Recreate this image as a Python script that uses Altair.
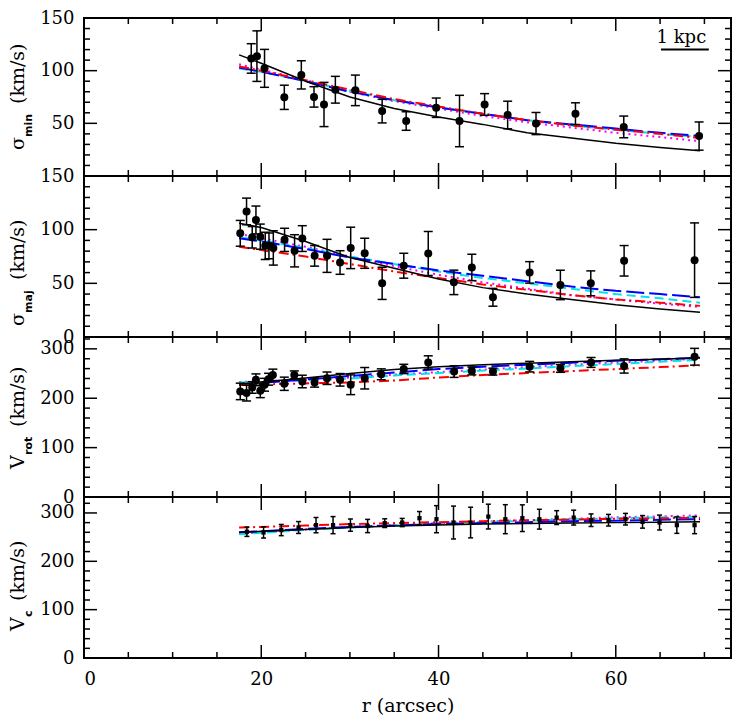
import altair as alt
import pandas as pd

# ---------------- data ----------------
# panel 1: sigma_min
r_min = [18.87, 19.51, 20.37, 22.60, 24.52, 25.95, 27.08, 28.36, 30.62, 33.64, 36.35, 39.74,
         42.37, 45.20, 47.80, 51.00, 55.45, 60.90, 69.40]
v_min = [111.6, 113.8, 102.2, 74.7, 96.0, 75.1, 67.9, 81.9, 81.3, 61.6, 52.2, 64.8,
         52.2, 67.9, 57.9, 49.8, 59.2, 46.6, 37.9]
e_min = [14, 24, 18, 11.5, 13.4, 9.7, 21, 12.7, 14.5, 11.2, 8.8, 9.2,
         24.4, 10.3, 13.1, 10.5, 10.3, 10.3, 13.4]

# panel 2: sigma_maj
r_maj = [17.63, 18.34, 18.98, 19.40, 19.89, 20.45, 20.87, 21.36, 22.63, 23.76, 24.63, 26.02,
         27.42, 28.89, 30.09, 31.67, 33.64, 36.08, 38.84, 41.73, 43.76, 46.14, 50.28, 53.75,
         57.18, 60.94, 68.89]
v_maj = [96.6, 117.0, 92.9, 109.0, 93.5, 84.9, 84.9, 83.0, 90.5, 80.3, 91.7, 75.6,
         75.6, 69.4, 83.0, 78.0, 50.0, 66.4, 77.8, 50.9, 64.8, 37.0, 60.2, 48.5,
         50.0, 71.0, 71.6]
e_maj = [12, 12.4, 10, 13, 11.7, 12.7, 12, 16, 10.8, 15, 12, 9.6,
         15.4, 11, 19.3, 14, 15, 11.6, 20.5, 11.4, 12.3, 8.3, 10, 13.7,
         11.6, 14.2, 34.7]

# panel 3: V_rot
r_rot = [17.63, 18.34, 18.98, 19.40, 19.89, 20.37, 20.82, 21.31, 22.60, 23.73, 24.63, 26.02,
         27.42, 28.89, 30.09, 31.67, 33.54, 36.08, 38.84, 41.76, 43.76, 46.14, 50.28, 53.75,
         57.21, 60.94, 68.89]
v_rot = [213.8, 210.4, 221.8, 237.3, 215.2, 227.3, 238.5, 247.3, 229.3, 247.3, 233.9, 231.9,
         240.5, 237.3, 227.3, 240.5, 248.5, 259.3, 272.5, 253.9, 255.3, 253.9, 263.9, 260.5,
         272.5, 265.3, 284.0]
e_rot = [16.7, 16, 11.7, 12, 14, 13, 12, 11.6, 13.4, 8, 12.7, 9.4,
         12.6, 12.7, 20, 21.7, 11, 9.4, 13.4, 11.7, 8, 7, 10.7, 8,
         10, 14.4, 17]

# panel 4: V_c
r_c = [18.38, 20.26, 22.26, 24.21, 26.18, 28.10, 30.06, 32.00, 33.93, 35.90, 37.85, 39.77,
       41.69, 43.62, 45.62, 47.54, 49.46, 51.38, 53.33, 55.25, 57.21, 59.18, 61.10, 63.02,
       64.94, 66.89, 68.89]
v_c = [261.1, 259.7, 264.6, 269.9, 274.8, 274.8, 274.8, 273.0, 278.9, 280.2, 289.2, 287.1,
       280.2, 280.2, 292.5, 287.1, 289.2, 287.1, 290.4, 290.4, 285.0, 285.0, 287.1, 281.6,
       280.2, 274.8, 274.8]
e_c = [9.6, 11.6, 11.6, 12.3, 15.8, 17.7, 12.7, 13.7, 9, 8.5, 13.7, 28,
       34, 31.7, 25.6, 30, 27.6, 20.5, 14.3, 15.4, 13, 12, 12, 13,
       15.4, 17, 17.7]

# model curves (radius grid shared by all models)
r_model = [17.5, 20, 25, 30, 35, 40, 45, 50, 55, 60, 65, 69.5]

min_black = [115, 107, 90, 75, 64, 56, 49, 41, 36, 31, 27, 24]
min_blue = [103, 99, 90, 80, 72, 65, 59, 53, 49, 45, 41, 38]
min_cyan = [102, 99, 90, 81, 72, 65, 59, 53, 48, 44, 40, 37]
min_red = [104, 100, 91, 82, 73, 66, 59, 53, 48, 44, 40, 36]
min_magenta = [106, 101, 91, 80, 71, 64, 57, 51, 46, 41, 37, 33]

maj_black = [106, 102, 89, 74, 64, 54, 46, 40, 35, 30, 26, 23]
maj_blue = [92, 89, 82, 74, 68, 62, 57, 52, 47, 43, 40, 37]
maj_cyan = [93, 90, 83, 75, 68, 61, 55, 50, 45, 40, 36, 32]
maj_red = [84, 81, 75, 68, 61, 55, 49, 44, 39, 35, 32, 29]
maj_magenta = [96, 92, 84, 75, 66, 58, 51, 45, 39, 35, 31, 28]

rot_black = [229, 233, 241, 250, 258, 264, 268, 271, 274, 277, 279, 282]
rot_blue = [227, 231, 238, 245, 252, 259, 264, 268, 272, 276, 279, 282]
rot_cyan = [232, 233, 236, 240, 246, 251, 256, 260, 265, 269, 274, 278]
rot_red = [227, 228, 230, 232, 236, 242, 247, 251, 255, 259, 263, 267]
rot_magenta = [233, 234, 237, 242, 248, 253, 258, 263, 268, 272, 276, 280]

c_black = [260, 262, 266, 270, 273, 275, 277, 278, 279, 280, 281, 282]
c_blue = [260, 262, 267, 271, 274, 277, 279, 281, 283, 284, 286, 287]
c_cyan = [256, 259, 265, 270, 274, 278, 281, 284, 287, 289, 291, 292]
c_red = [270, 271, 274, 277, 279, 281, 283, 285, 286, 288, 289, 290]
c_magenta = [257, 260, 266, 271, 275, 279, 282, 285, 288, 291, 293, 295]

# axis ticks
x_major = [20, 40, 60]
x_minor = [5, 10, 15, 25, 30, 35, 45, 50, 55, 65, 70]
x_labels = [0, 20, 40, 60]
sig_major = [50, 100]
sig_minor = [10, 20, 30, 40, 60, 70, 80, 90, 110, 120, 130, 140]
vel_major = [100, 200, 300]
vel_minor = [20, 40, 60, 80, 120, 140, 160, 180, 220, 240, 260, 280, 320]

# scale bar
kpc_x = [65.1]
kpc_x2 = [70.5]
kpc_y = [120]
kpc_text_x = [67.4]
kpc_text_y = [126]

# ---------------- styling ----------------
FONT = "DejaVu Serif"
W = 647
HEIGHTS = [158, 161, 160, 161]
STYLES = {
    "magenta": dict(color="#ff00ff", strokeDash=[2, 4], strokeWidth=2),
    "cyan": dict(color="#00e5e5", strokeDash=[9, 5], strokeWidth=2),
    "blue": dict(color="#0000ff", strokeDash=[18, 5], strokeWidth=2),
    "red": dict(color="#ff0000", strokeDash=[10, 4, 2, 4], strokeWidth=2),
    "black": dict(color="black", strokeWidth=1.5),
}
TITLE_X = -60
SUB_X = -52


def panel(H, r, v, e, models, ydom, ylabels, ymaj, ymin, titles, bottom=False,
          small=False, extra=None):
    xaxis = None
    if bottom:
        xaxis = alt.Axis(values=x_labels, ticks=False, domain=False, grid=False,
                         labelPadding=12, labelFont=FONT, labelFontSize=18,
                         labelColor="black", title="r (arcsec)", titleFont=FONT,
                         titleFontSize=19, titleFontWeight="normal", titleColor="black",
                         titlePadding=8)
    yaxis = alt.Axis(values=ylabels, ticks=False, domain=False, grid=False, title=None,
                     labelPadding=10, labelFont=FONT, labelFontSize=18,
                     labelColor="black")
    xs = alt.Scale(domain=[0, 73], nice=False, zero=False)
    ys = alt.Scale(domain=ydom, nice=False, zero=False)

    def X(f):
        return alt.X(f, type="quantitative", scale=xs, axis=xaxis)

    def Y(f):
        return alt.Y(f, type="quantitative", scale=ys, axis=yaxis)

    layers = []
    # inward ticks
    for vals, ln in ((x_major, 13), (x_minor, 6)):
        d = pd.DataFrame({"r": vals})
        layers.append(alt.Chart(d).mark_rule(color="black", strokeWidth=1.5).encode(
            x=X("r"), y=alt.value(0), y2=alt.value(ln)))
        layers.append(alt.Chart(d).mark_rule(color="black", strokeWidth=1.5).encode(
            x=X("r"), y=alt.value(H), y2=alt.value(H - ln)))
    for vals, ln in ((ymaj, 13), (ymin, 6)):
        d = pd.DataFrame({"v": vals})
        layers.append(alt.Chart(d).mark_rule(color="black", strokeWidth=1.5).encode(
            y=Y("v"), x=alt.value(0), x2=alt.value(ln)))
        layers.append(alt.Chart(d).mark_rule(color="black", strokeWidth=1.5).encode(
            y=Y("v"), x=alt.value(W), x2=alt.value(W - ln)))

    # model curves
    for name in ["magenta", "cyan", "blue", "red", "black"]:
        d = pd.DataFrame({"r": r_model, "v": models[name]})
        layers.append(alt.Chart(d).mark_line(**STYLES[name]).encode(x=X("r"), y=Y("v")))

    # data with error bars
    d = pd.DataFrame({"r": r, "v": v, "e": e})
    d["lo"] = d["v"] - d["e"]
    d["hi"] = d["v"] + d["e"]
    cap = 5 if small else 9
    layers.append(alt.Chart(d).mark_rule(color="black", strokeWidth=1.5).encode(
        x=X("r"), y=Y("lo"), y2="hi"))
    for f in ("lo", "hi"):
        layers.append(alt.Chart(d).mark_tick(color="black", orient="horizontal", size=cap,
                                             thickness=1.5, opacity=1).encode(x=X("r"), y=Y(f)))
    if small:
        layers.append(alt.Chart(d).mark_point(shape="square", filled=True, size=18,
                                              color="black", opacity=1).encode(x=X("r"), y=Y("v")))
    else:
        layers.append(alt.Chart(d).mark_point(shape="circle", filled=True, size=64,
                                              color="black", opacity=1).encode(x=X("r"), y=Y("v")))

    # y title pieces (symbol, subscript, unit)
    sym, sub, (ys_, ysub, yunit) = titles
    tdf = pd.DataFrame({"t": [sym]})
    layers.append(alt.Chart(tdf).mark_text(angle=270, align="left", baseline="alphabetic",
                                           font=FONT, fontSize=19, color="black").encode(
        text="t:N", x=alt.value(TITLE_X), y=alt.value(ys_)))
    tdf = pd.DataFrame({"t": [sub]})
    layers.append(alt.Chart(tdf).mark_text(angle=270, align="left", baseline="alphabetic",
                                           font="DejaVu Sans", fontWeight="bold", fontSize=11,
                                           color="black").encode(
        text="t:N", x=alt.value(SUB_X), y=alt.value(ysub)))
    tdf = pd.DataFrame({"t": ["(km/s)"]})
    layers.append(alt.Chart(tdf).mark_text(angle=270, align="left", baseline="alphabetic",
                                           font=FONT, fontSize=19, color="black").encode(
        text="t:N", x=alt.value(TITLE_X), y=alt.value(yunit)))

    if extra is not None:
        layers.extend(extra(X, Y))

    return alt.layer(*layers).properties(width=W, height=H)


def kpc_bar(X, Y):
    d = pd.DataFrame({"r": kpc_x, "r2": kpc_x2, "v": kpc_y})
    bar = alt.Chart(d).mark_rule(color="black", strokeWidth=2).encode(
        x=X("r"), x2="r2", y=Y("v"))
    t = pd.DataFrame({"r": kpc_text_x, "v": kpc_text_y, "t": ["1  kpc"]})
    txt = alt.Chart(t).mark_text(font=FONT, fontSize=18, align="center",
                                 baseline="alphabetic", color="black").encode(
        x=X("r"), y=Y("v"), text="t:N")
    return [bar, txt]


p1 = panel(HEIGHTS[0], r_min, v_min, e_min,
           dict(black=min_black, blue=min_blue, cyan=min_cyan, red=min_red, magenta=min_magenta),
           [0, 150], [50, 100, 150], sig_major, sig_minor,
           ("σ", "min", (132, 119, 86)), extra=kpc_bar)
p2 = panel(HEIGHTS[1], r_maj, v_maj, e_maj,
           dict(black=maj_black, blue=maj_blue, cyan=maj_cyan, red=maj_red, magenta=maj_magenta),
           [0, 150], [0, 50, 100, 150], sig_major, sig_minor,
           ("σ", "maj", (150, 137, 104)))
p3 = panel(HEIGHTS[2], r_rot, v_rot, e_rot,
           dict(black=rot_black, blue=rot_blue, cyan=rot_cyan, red=rot_red, magenta=rot_magenta),
           [0, 324], [0, 100, 200, 300], vel_major, vel_minor,
           ("V", "rot", (132, 118, 90)))
p4 = panel(HEIGHTS[3], r_c, v_c, e_c,
           dict(black=c_black, blue=c_blue, cyan=c_cyan, red=c_red, magenta=c_magenta),
           [0, 333], [0, 100, 200, 300], vel_major, vel_minor,
           ("V", "c", (134, 120, 104)), bottom=True, small=True)

chart = alt.vconcat(p1, p2, p3, p4, spacing=0, bounds="flush").resolve_scale(
    x="independent", y="independent"
).properties(
    padding={"left": 0, "top": 0, "right": 0, "bottom": 0}
).configure_view(stroke="black", strokeWidth=2)

chart.save("out.html", embed_options={"renderer": "svg", "actions": False})
